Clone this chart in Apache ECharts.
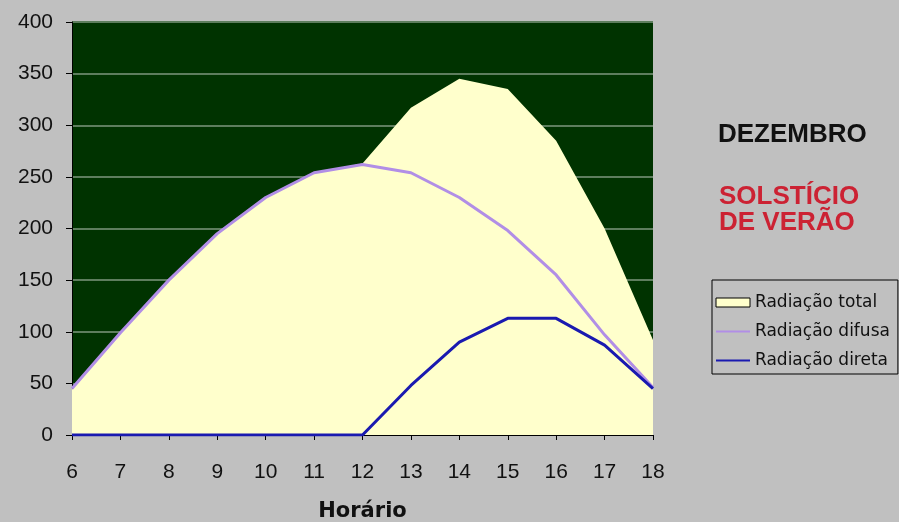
<!DOCTYPE html>
<html>
<head>
<meta charset="utf-8">
<script src="https://cdn.jsdelivr.net/npm/echarts@6/dist/echarts.min.js"></script>
<style>
html,body{margin:0;padding:0;background:#c0c0c0;}
#chart{width:899px;height:522px;}
</style>
</head>
<body>
<div id="chart"></div>
<script>
const hours = [6, 7, 8, 9, 10, 11, 12, 13, 14, 15, 16, 17, 18];
const radTotal = [44, 99, 150, 195, 230, 254, 263, 317, 345, 335, 285, 200, 92];
const radDifusa = [45, 99, 150, 195, 230, 254, 262, 254, 230, 198, 155, 97, 46];
const radDireta = [0, 0, 0, 0, 0, 0, 0, 48, 90, 113, 113, 87, 45];
const yTicks = [0, 50, 100, 150, 200, 250, 300, 350, 400];
const seriesNames = ['Radiação total', 'Radiação difusa', 'Radiação direta'];

const pairs = arr => hours.map((h, i) => [h, arr[i]]);
const hiddenSymbol = {color: 'rgba(0,0,0,0)', borderWidth: 0, opacity: 0};

const chart = echarts.init(document.getElementById('chart'), null, {renderer: 'canvas'});
chart.setOption({
  backgroundColor: '#c0c0c0',
  animation: false,
  grid: {left: 72, right: 246, top: 22, bottom: 87, show: true, backgroundColor: '#003300', borderWidth: 0,
    containLabel: false, outerBoundsMode: 'none'},
  title: [
    {text: 'DEZEMBRO', left: 718, top: 122, padding: 0, textStyle: {fontFamily: 'Liberation Sans', fontWeight: 'bold', fontSize: 26, color: '#111'}},
    {text: 'SOLSTÍCIO\nDE VERÃO', left: 719, top: 184, padding: 0, textStyle: {fontFamily: 'Liberation Sans', fontWeight: 'bold', fontSize: 26, color: '#cc2233', lineHeight: 26}}
  ],
  legend: {
    orient: 'vertical', left: 712, top: 280,
    data: [
      {name: seriesNames[0], icon: 'rect', itemStyle: {color: '#ffffcc', borderColor: '#000', borderWidth: 1}},
      {name: seriesNames[1], itemStyle: hiddenSymbol},
      {name: seriesNames[2], itemStyle: hiddenSymbol}
    ],
    itemWidth: 34, itemHeight: 9, itemGap: 12,
    padding: [14, 8, 5, 3],
    borderColor: '#000', borderWidth: 1,
    textStyle: {fontFamily: 'DejaVu Sans', fontSize: 17, color: '#111'},
    selectedMode: false
  },
  xAxis: {
    type: 'value', min: 6, max: 18, interval: 1,
    name: 'Horário', nameLocation: 'middle', nameGap: 66,
    nameTextStyle: {fontFamily: 'DejaVu Sans', fontWeight: 'bold', fontSize: 21, color: '#111'},
    axisLine: {show: true, lineStyle: {color: '#000', width: 1}},
    axisTick: {show: true, length: 5, lineStyle: {color: '#000'}},
    axisLabel: {margin: 27, fontFamily: 'Liberation Sans', fontSize: 21, color: '#111'},
    splitLine: {show: false}
  },
  yAxis: {
    type: 'value', min: 0, max: 400, interval: 50,
    axisLine: {show: true, lineStyle: {color: '#000', width: 1}},
    axisTick: {show: true, length: 6, lineStyle: {color: '#000'}},
    axisLabel: {margin: 19, fontFamily: 'Liberation Sans', fontSize: 21, color: '#111',
      formatter: v => yTicks.includes(v) ? String(v) : ''},
    splitLine: {show: true, lineStyle: {color: '#5e7e5e', width: 2}}
  },
  series: [
    {name: seriesNames[0], type: 'line', data: pairs(radTotal), symbol: 'none',
      lineStyle: {width: 0, color: '#ffffcc'}, itemStyle: {color: '#ffffcc'},
      areaStyle: {color: '#ffffcc', opacity: 1}, z: 2},
    {name: seriesNames[1], type: 'line', data: pairs(radDifusa), symbol: 'none',
      lineStyle: {width: 3, color: '#b18ee6'}, itemStyle: {color: '#b18ee6'}, z: 3},
    {name: seriesNames[2], type: 'line', data: pairs(radDireta), symbol: 'none',
      lineStyle: {width: 3, color: '#1a1ab0'}, itemStyle: {color: '#1a1ab0'}, z: 4}
  ]
});
</script>
</body>
</html>
